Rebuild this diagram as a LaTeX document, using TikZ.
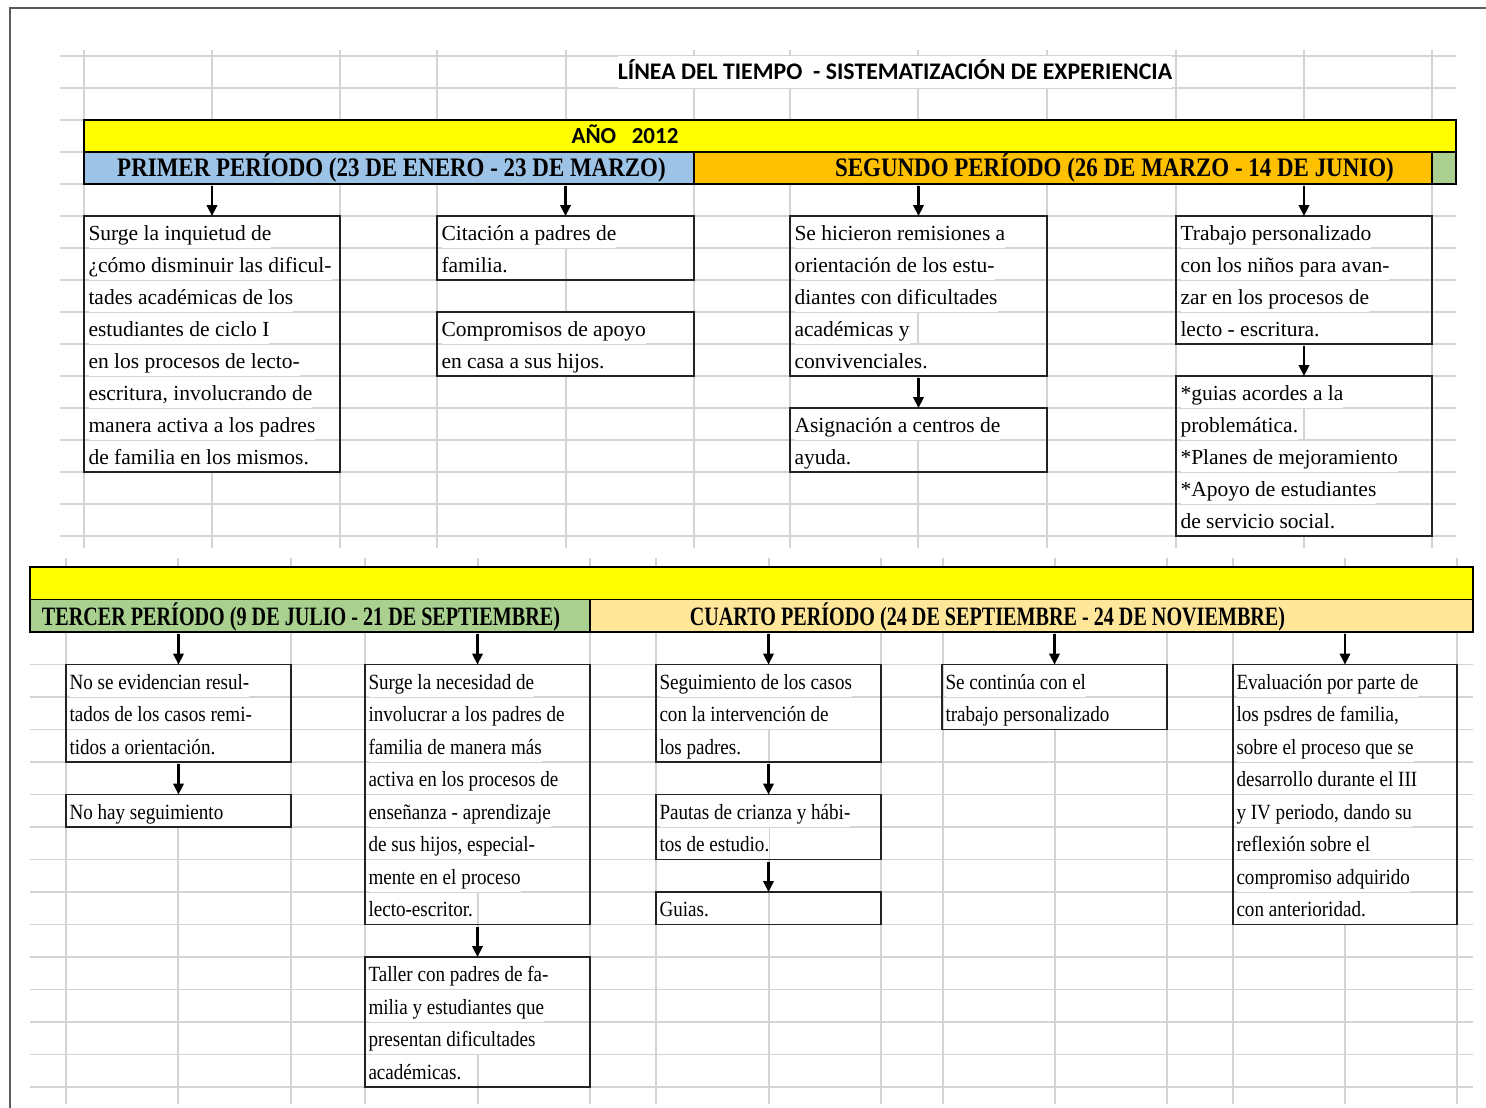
\documentclass[tikz,border=0pt]{standalone}
\usepackage{fontspec}
\setmainfont{Liberation Serif}
\newfontfamily\topbody{Liberation Serif}
\newfontfamily\botbody[FakeStretch=0.88]{Liberation Serif}
\newfontfamily\tophdr[FakeStretch=0.86]{Liberation Serif}
\newfontfamily\bothdr[FakeStretch=0.76]{Liberation Serif}
\newfontfamily\calib{Carlito}
\usetikzlibrary{arrows.meta}
\definecolor{gridc}{RGB}{212,212,212}
\definecolor{boxc}{RGB}{35,35,35}
\definecolor{framec}{RGB}{90,90,90}
\definecolor{xlblue}{RGB}{157,195,230}
\definecolor{xlorange}{RGB}{255,192,0}
\definecolor{xlgreen}{RGB}{169,208,142}
\definecolor{xlpeach}{RGB}{255,230,153}
\definecolor{xlyellow}{RGB}{255,255,0}
% #1 name prefix, #2 style, #3 x, #4 first baseline y, #5 row height, #6 lines
\newcommand\celllines[6]{%
  \foreach \ltext [count=\li] in {#6}{%
    \node[#2] (#1-\li) at ({#3},{#4+(\li-1)*#5}) {\ltext};
  }%
}
\begin{document}
\begin{tikzpicture}[x=1pt,y=-1pt,
  gridln/.style={draw=gridc, line width=1.4pt},
  barst/.style={draw=black, line width=1.3pt, inner sep=0pt, outer sep=0pt, anchor=north west},
  cellbox/.style={draw=boxc, line width=1.4pt, inner sep=0pt, outer sep=0pt, anchor=north west},
  titlest/.style={font=\calib\bfseries\fontsize{23pt}{27pt}\selectfont, inner sep=0pt},
  hdrA/.style={font=\tophdr\bfseries\fontsize{26.7pt}{30pt}\selectfont, inner sep=0pt, anchor=base},
  hdrB/.style={font=\bothdr\bfseries\fontsize{26.5pt}{30pt}\selectfont, inner sep=0pt, anchor=base},
  lnA/.style={font=\topbody\fontsize{21.5pt}{26pt}\selectfont, fill=white, inner sep=0pt, outer sep=0pt, text height=23.5pt, text depth=7.5pt, anchor=base west},
  lnB/.style={font=\botbody\fontsize{21.7pt}{26pt}\selectfont, fill=white, inner sep=0pt, outer sep=0pt, text height=24pt, text depth=7.5pt, anchor=base west},
  arr/.style={line width=2.2pt, -{Triangle[width=10.5pt,length=11pt]}, shorten <=2pt}
]
\fill[white] (0,0) rectangle (1486,1108);
\useasboundingbox (0,0) rectangle (1486,1108);

% spreadsheet grid, top sheet
\foreach \gy in {56,88,...,536} \draw[gridln] (60,\gy) -- (1456,\gy);
\foreach \gx in {84,212,340,437,566,694,790,918,1047,1176,1304,1432} \draw[gridln] (\gx,50) -- (\gx,548);
% spreadsheet grid, bottom sheet
\foreach \k in {0,...,16} \draw[gridln] (30,{567+32.5*\k}) -- (1473,{567+32.5*\k});
\foreach \gx in {66,178,291,365,478,590,656,769,881,943,1055,1167,1233,1345,1457} \draw[gridln] (\gx,558) -- (\gx,1104);

% outer frame
\draw[draw=framec, line width=2pt] (10,1108) -- (10,8) -- (1486,8);

% title
\node[titlest, font=\calib\bfseries\fontsize{23.8pt}{27pt}\selectfont, fill=white, text height=23pt, text depth=8pt, anchor=base] (title) at (895,79.5) {LÍNEA DEL TIEMPO\ \ - SISTEMATIZACIÓN DE EXPERIENCIA};

% top bars
\node[barst, fill=xlyellow, minimum width=1372pt, minimum height=32pt] (yearA) at (84,120) {};
\node[barst, fill=xlblue, minimum width=610pt, minimum height=32pt] (p1) at (84,152) {};
\node[barst, fill=xlorange, minimum width=738pt, minimum height=32pt] (p2) at (694,152) {};
\node[barst, fill=xlgreen, minimum width=24pt, minimum height=32pt] (p2x) at (1432,152) {};
\node[titlest, anchor=base] (year) at (625,143.5) {AÑO\ \ \ 2012};
\node[hdrA] (p1t) at (391.5,176.75) {PRIMER PERÍODO (23 DE ENERO - 23 DE MARZO)};
\node[hdrA] (p2t) at (1114.5,176.75) {SEGUNDO PERÍODO (26 DE MARZO - 14 DE JUNIO)};

% bottom bars
\node[barst, fill=xlyellow, minimum width=1443pt, minimum height=32.5pt] (yearB) at (30,567) {};
\node[barst, fill=xlgreen, minimum width=560pt, minimum height=32.5pt] (p3) at (30,599.5) {};
\node[barst, fill=xlpeach, minimum width=883pt, minimum height=32.5pt] (p4) at (590,599.5) {};
\node[hdrB] (p3t) at (301,625) {TERCER PERÍODO (9 DE JULIO - 21 DE SEPTIEMBRE)};
\node[hdrB] (p4t) at (987.5,625) {CUARTO PERÍODO (24 DE SEPTIEMBRE - 24 DE NOVIEMBRE)};

% texts of the top cells
\celllines{b1t}{lnA}{88.5}{240}{32}{Surge la inquietud de,¿cómo disminuir las dificul-,tades académicas de los,estudiantes de ciclo I,en los procesos de lecto-,{escritura, involucrando de},manera activa a los padres,de familia en los mismos.}
\celllines{b2at}{lnA}{441.5}{240}{32}{Citación a padres de,familia.}
\celllines{b2bt}{lnA}{441.5}{336}{32}{Compromisos de apoyo,en casa a sus hijos.}
\celllines{b3at}{lnA}{794.5}{240}{32}{Se hicieron remisiones a,orientación de los estu-,diantes con dificultades,académicas y,convivenciales.}
\celllines{b3bt}{lnA}{794.5}{432}{32}{Asignación a centros de,ayuda.}
\celllines{b4at}{lnA}{1180.5}{240}{32}{Trabajo personalizado,con los niños para avan-,zar en los procesos de,lecto - escritura.}
\celllines{b4bt}{lnA}{1180.5}{400}{32}{*guias acordes a la,problemática.,*Planes de mejoramiento,*Apoyo de estudiantes,de servicio social.}

% texts of the bottom cells
\celllines{t1t}{lnB}{69.5}{689}{32.5}{No se evidencian resul-,tados de los casos remi-,tidos a orientación.}
\celllines{t2t}{lnB}{69.5}{819}{32.5}{No hay seguimiento}
\celllines{t3t}{lnB}{368.5}{689}{32.5}{Surge la necesidad de,involucrar a los padres de,familia de manera más,activa en los procesos de,enseñanza - aprendizaje,{de sus hijos, especial-},mente en el proceso,lecto-escritor.}
\celllines{t4t}{lnB}{368.5}{981.5}{32.5}{Taller con padres de fa-,milia y estudiantes que,presentan dificultades,académicas.}
\celllines{c1t}{lnB}{659.5}{689}{32.5}{Seguimiento de los casos,con la intervención de,los padres.}
\celllines{c2t}{lnB}{659.5}{819}{32.5}{Pautas de crianza y hábi-,tos de estudio.}
\celllines{c3t}{lnB}{659.5}{916.5}{32.5}{Guias.}
\celllines{c4t}{lnB}{945.5}{689}{32.5}{Se continúa con el,trabajo personalizado}
\celllines{c5t}{lnB}{1236.5}{689}{32.5}{Evaluación por parte de,{los psdres de familia,},sobre el proceso que se,desarrollo durante el III,{y IV periodo, dando su},reflexión sobre el,compromiso adquirido,con anterioridad.}

% top boxes (borders drawn over the text fills)
\node[cellbox, minimum width=256pt, minimum height=256pt] (b1) at (84,216) {};
\node[cellbox, minimum width=257pt, minimum height=64pt] (b2a) at (437,216) {};
\node[cellbox, minimum width=257pt, minimum height=64pt] (b2b) at (437,312) {};
\node[cellbox, minimum width=257pt, minimum height=160pt] (b3a) at (790,216) {};
\node[cellbox, minimum width=257pt, minimum height=64pt] (b3b) at (790,408) {};
\node[cellbox, minimum width=256pt, minimum height=128pt] (b4a) at (1176,216) {};
\node[cellbox, minimum width=256pt, minimum height=160pt] (b4b) at (1176,376) {};

% bottom boxes
\node[cellbox, minimum width=225pt, minimum height=97.5pt] (t1) at (66,664.5) {};
\node[cellbox, minimum width=225pt, minimum height=32.5pt] (t2) at (66,794.5) {};
\node[cellbox, minimum width=225pt, minimum height=260pt] (t3) at (365,664.5) {};
\node[cellbox, minimum width=225pt, minimum height=130pt] (t4) at (365,957) {};
\node[cellbox, minimum width=225pt, minimum height=97.5pt] (c1) at (656,664.5) {};
\node[cellbox, minimum width=225pt, minimum height=65pt] (c2) at (656,794.5) {};
\node[cellbox, minimum width=225pt, minimum height=32.5pt] (c3) at (656,892) {};
\node[cellbox, minimum width=225pt, minimum height=65pt] (c4) at (942,664.5) {};
\node[cellbox, minimum width=224pt, minimum height=260pt] (c5) at (1233,664.5) {};

% arrows
\draw[arr] (p1.south -| b1.north) -- (b1.north);
\draw[arr] (p1.south -| b2a.north) -- (b2a.north);
\draw[arr] (p2.south -| b3a.north) -- (b3a.north);
\draw[arr] (p2.south -| b4a.north) -- (b4a.north);
\draw[arr] (b3a.south) -- (b3b.north);
\draw[arr] (b4a.south) -- (b4b.north);
\draw[arr] (p3.south -| t1.north) -- (t1.north);
\draw[arr] (p3.south -| t3.north) -- (t3.north);
\draw[arr] (p4.south -| c1.north) -- (c1.north);
\draw[arr] (p4.south -| c4.north) -- (c4.north);
\draw[arr] (p4.south -| c5.north) -- (c5.north);
\draw[arr] (t1.south) -- (t2.north);
\draw[arr] (t3.south) -- (t4.north);
\draw[arr] (c1.south) -- (c2.north);
\draw[arr] (c2.south) -- (c3.north);
\end{tikzpicture}
\end{document}
